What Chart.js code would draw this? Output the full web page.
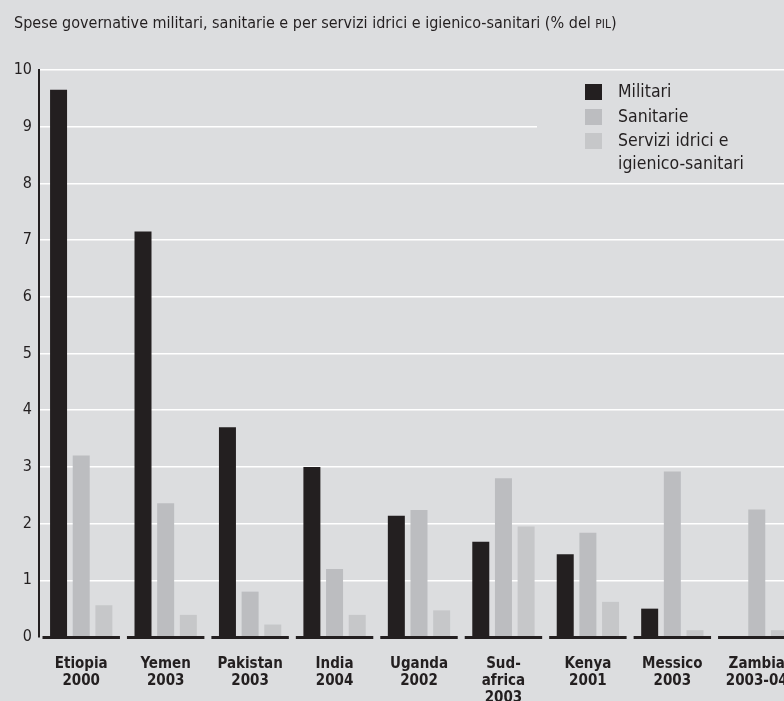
<!DOCTYPE html>
<html><head><meta charset="utf-8">
<script src="https://cdn.jsdelivr.net/npm/chart.js@4/dist/chart.umd.min.js"></script>
<style>
html,body{margin:0;padding:0;background:#dcdddf;overflow:hidden;width:784px;height:701px}
#wrap{position:relative;width:800px;height:701px}
</style></head><body>
<div id="wrap"><canvas id="c" width="800" height="701"></canvas></div>
<script>
const FONT = '"Liberation Sans Narrow","DejaVu Sans Condensed","Liberation Sans",sans-serif';
const titleMain = 'Spese governative militari, sanitarie e per servizi idrici e igienico-sanitari (% del ';
const titleSmall = 'PIL';
const titleEnd = ')';
const categories = [
  ['Etiopia','2000'], ['Yemen','2003'], ['Pakistan','2003'], ['India','2004'],
  ['Uganda','2002'], ['Sud-','africa','2003'], ['Kenya','2001'], ['Messico','2003'], ['Zambia','2003-04']
];
const seriesNames = ['Militari', 'Sanitarie', 'Servizi idrici e igienico-sanitari'];
const legendLines = [['Militari'], ['Sanitarie'], ['Servizi idrici e', 'igienico-sanitari']];
const seriesColors = ['#231f20', '#bcbdc0', '#c6c7c9'];
const militari  = [9.65, 7.15, 3.7, 3.0, 2.14, 1.68, 1.46, 0.5, null];
const sanitarie = [3.2, 2.36, 0.8, 1.2, 2.24, 2.8, 1.84, 2.92, 2.25];
const servizi   = [0.56, 0.39, 0.22, 0.39, 0.47, 1.95, 0.62, 0.12, 0.12];
const yTicks = [0,1,2,3,4,5,6,7,8,9,10];

const TEXT = '#231f20';

const titlePlugin = {
  id: 'titlePlugin',
  afterDraw(chart) {
    const c = chart.ctx;
    c.save();
    c.fillStyle = TEXT;
    c.textBaseline = 'alphabetic';
    c.textAlign = 'left';
    let x = 14, y = 28;
    c.font = '16px ' + FONT;
    c.fillText(titleMain, x, y);
    x += c.measureText(titleMain).width;
    c.font = '12px ' + FONT;
    c.fillText(titleSmall, x, y);
    x += c.measureText(titleSmall).width;
    c.font = '16px ' + FONT;
    c.fillText(titleEnd, x, y);
    c.restore();
  }
};

const baselinePlugin = {
  id: 'baselinePlugin',
  afterDatasetsDraw(chart) {
    const c = chart.ctx, xs = chart.scales.x, ys = chart.scales.y;
    const y0 = ys.getPixelForValue(0);
    const half = (xs.getPixelForValue(1) - xs.getPixelForValue(0)) / 2;
    c.save();
    c.fillStyle = TEXT;
    categories.forEach((_, i) => {
      const cx = xs.getPixelForValue(i);
      c.fillRect(cx - half + 3.5, y0 - 1, 2 * half - 7, 3);
    });
    c.restore();
  }
};

const legendPlugin = {
  id: 'legendPlugin',
  afterDraw(chart) {
    const c = chart.ctx;
    c.save();
    c.fillStyle = '#dcdddf';
    c.fillRect(537, 76, 300, 102);
    c.font = '17.5px ' + FONT;
    c.textBaseline = 'middle';
    c.textAlign = 'left';
    let rowY = [92, 117, 141];
    legendLines.forEach((lines, i) => {
      c.fillStyle = seriesColors[i];
      c.fillRect(585, rowY[i] - 8, 17, 16);
      c.fillStyle = TEXT;
      lines.forEach((t, j) => c.fillText(t, 618, rowY[i] + j * 23));
    });
    c.restore();
  }
};

new Chart(document.getElementById('c'), {
  type: 'bar',
  data: {
    labels: categories,
    datasets: [
      { label: seriesNames[0], data: militari,  backgroundColor: seriesColors[0] },
      { label: seriesNames[1], data: sanitarie, backgroundColor: seriesColors[1] },
      { label: seriesNames[2], data: servizi,   backgroundColor: seriesColors[2] }
    ]
  },
  options: {
    responsive: false,
    animation: false,
    layout: { padding: { top: 70, left: 0, right: 1, bottom: 0 } },
    datasets: { bar: { categoryPercentage: 0.805, barPercentage: 0.75 } },
    plugins: { legend: { display: false }, title: { display: false }, tooltip: { enabled: false } },
    scales: {
      x: {
        grid: { display: false },
        border: { display: false },
        ticks: { font: { family: FONT, size: 15, weight: 'bold', lineHeight: 1.13 }, color: TEXT, padding: 11, maxRotation: 0, autoSkip: false },
        afterFit(s) { s.height = 64; }
      },
      y: {
        min: 0, max: 10,
        afterBuildTicks(s) { s.ticks = yTicks.map(v => ({ value: v })); },
        ticks: { font: { family: FONT, size: 16 }, color: TEXT, padding: 7 },
        grid: { color: ctx => ctx.tick && ctx.tick.value === 0 ? 'rgba(0,0,0,0)' : '#ffffff', lineWidth: 1.5, drawTicks: false },
        border: { display: true, color: TEXT, width: 2 },
        afterFit(s) { s.width = 39; }
      }
    }
  },
  plugins: [baselinePlugin, titlePlugin, legendPlugin]
});
</script>
</body></html>
